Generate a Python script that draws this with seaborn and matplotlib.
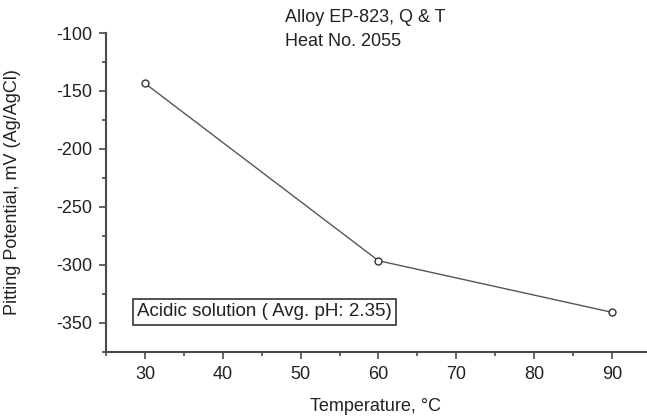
import matplotlib
matplotlib.use("Agg")
import matplotlib.pyplot as plt
import seaborn as sns
import pandas as pd
from matplotlib.ticker import MultipleLocator

temperature = [30, 60, 90]
potential = [-143.5, -296.5, -341.0]
x_ticks = [30, 40, 50, 60, 70, 80, 90]
y_ticks = [-350, -300, -250, -200, -150, -100]

sns.set_theme(style="ticks")
plt.rcParams['font.family'] = ['Liberation Sans', 'DejaVu Sans']
plt.rcParams['axes.unicode_minus'] = False

df = pd.DataFrame({"Temperature": temperature, "Potential": potential})

fig = plt.figure(figsize=(6.47, 4.17), dpi=100)
L, B, T = 106.1, 351.7, 33.0
W = 647 - L
H = B - T
ax = fig.add_axes([L / 647, 1 - B / 417, W / 647, H / 417])

c = "#4a4a4a"
tc = "#222222"
fs = 13
sns.lineplot(data=df, x="Temperature", y="Potential", ax=ax, color="#555555",
             linewidth=1.0, marker="o", markersize=5, markerfacecolor="white",
             markeredgecolor="#333333", markeredgewidth=1.0)

ax.set_xlim(25, 94.5)
ax.set_ylim(-375, -100)
ax.set_xticks(x_ticks)
ax.set_yticks(y_ticks)
ax.xaxis.set_minor_locator(MultipleLocator(5))
ax.yaxis.set_minor_locator(MultipleLocator(25))
ax.tick_params(axis="both", which="major", length=5, width=1.2, color=c,
               labelsize=fs, labelcolor=tc, direction="out", pad=5)
ax.tick_params(axis="both", which="minor", length=3, width=1.2, color=c, direction="out")

for s in ["top", "right"]:
    ax.spines[s].set_visible(False)
for s in ["left", "bottom"]:
    ax.spines[s].set_color(c)
    ax.spines[s].set_linewidth(1.5)

ax.set_xlabel("Temperature, °C", fontsize=fs, color=tc)
ax.set_ylabel("Pitting Potential, mV (Ag/AgCl)", fontsize=fs, color=tc)
ax.xaxis.set_label_coords((375 - L) / W, -(398 - B) / H)
ax.yaxis.set_label_coords(-(L - 21) / W, 0.5)

ax.text((137 - L) / W, (B - 312) / H, "Acidic solution ( Avg. pH: 2.35)", transform=ax.transAxes,
        fontsize=13.5, color=tc, va="center", ha="left",
        bbox=dict(boxstyle="square,pad=0.22", facecolor="white", edgecolor="#333333", linewidth=1.2))

fig.text(285 / 647, 1 - 17 / 417, "Alloy EP-823, Q & T", fontsize=fs, color=tc,
         va="center", ha="left")
fig.text(285 / 647, 1 - 42 / 417, "Heat No. 2055", fontsize=fs, color=tc,
         va="center", ha="left")

fig.savefig("out.png", dpi=100, facecolor="white")
